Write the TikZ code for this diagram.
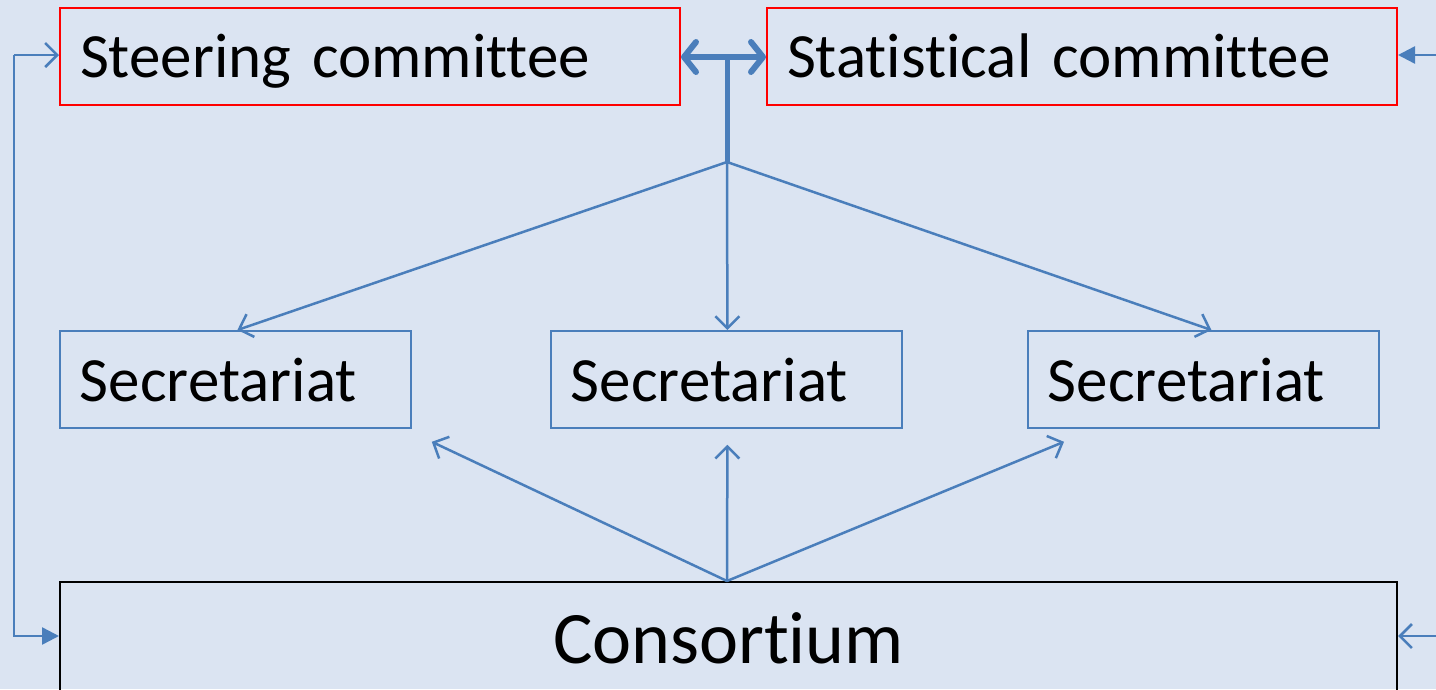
\documentclass[tikz,border=0pt]{standalone}
\usepackage{fontspec}
\setmainfont[Ligatures={NoCommon},WordSpace={0.85}]{Carlito}
\usetikzlibrary{arrows.meta,calc}
\definecolor{bgc}{RGB}{219,228,242}
\definecolor{lnc}{RGB}{74,126,187}
\begin{document}
\begin{tikzpicture}[x=1pt,y=-1pt,
  redbox/.style={draw=red,line width=2pt,anchor=north west,inner xsep=20pt,inner ysep=0pt,align=left,font=\fontsize{63}{70}\selectfont,text height=69pt,text depth=28pt},
  bluebox/.style={draw=lnc,line width=1.8pt,anchor=north west,inner xsep=20pt,inner ysep=0pt,align=left,font=\fontsize{63}{70}\selectfont,text height=71pt,text depth=26pt,text width=311pt},
  conn/.style={draw=lnc,line width=2.5pt},
  openhead/.style={-{Straight Barb[length=12pt,width=24pt,line width=2.5pt]}},
  fillhead/.style={-{Triangle[length=17pt,width=17pt]}}]
\useasboundingbox (0,0) rectangle (1436,689);
\fill[bgc] (0,0) rectangle (1436,689);
\clip (0,0) rectangle (1436,689);
\node[redbox,text width=580pt] (steer) at (59,7) {Steering committee};
\node[redbox,text width=590pt] (stat) at (766,7) {Statistical committee};
\node[bluebox] (sec1) at (59,330) {Secretariat};
\node[bluebox] (sec2) at (550,330) {Secretariat};
\node[bluebox] (sec3) at (1027,330) {Secretariat};
\node[draw=black,line width=2.2pt,anchor=north west,text width=1337pt,align=center,text height=81pt,text depth=31pt,inner sep=0pt,font=\fontsize{74}{80}\selectfont] (cons) at (59,581) {Consortium};
% thick double arrow and stem
\coordinate (top) at (727,57);
\coordinate (hub) at (727,162);
\draw[draw=lnc,line width=6pt,{Straight Barb[length=12pt,width=30pt,line width=6pt,round]}-{Straight Barb[length=12pt,width=30pt,line width=6pt,round]}] (steer.east |- top) -- (stat.west |- top);
\draw[draw=lnc,line width=5pt] (top) -- (hub);
% down to secretariats
\draw[conn,openhead] (hub) -- ($(sec1.north)+(2,0)$);
\draw[conn,openhead] (hub) -- ($(sec2.north)+(1,0)$);
\draw[conn,openhead] (hub) -- ($(sec3.north)+(8,0)$);
% up from consortium
\coordinate (base) at (727,581);
\draw[conn,openhead] (base) -- ($(sec1.south east)+(20,13)$);
\draw[conn,openhead] (base) -- ($(sec2.south)+(1,16)$);
\draw[conn,openhead] (base) -- ($(sec3.south west)+(37,13)$);
% left loop
\coordinate (L1) at (14,55);
\coordinate (L2) at (14,636);
\draw[conn,openhead] (L1) -- (steer.west |- L1);
\draw[conn,fillhead] (L1) -- (L2) -- (cons.west |- L2);
% right side
\coordinate (R1) at (1436,55);
\coordinate (R2) at (1436,636);
\draw[conn,fillhead] (R1) -- (stat.east |- R1);
\draw[conn,openhead] (R2) -- (cons.east |- R2);
\end{tikzpicture}
\end{document}
